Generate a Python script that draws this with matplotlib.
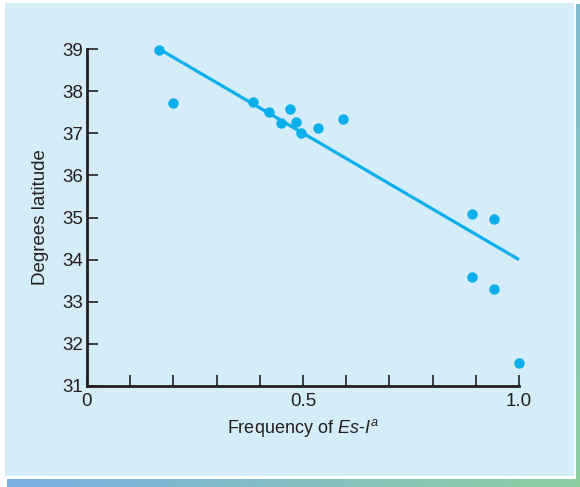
import matplotlib
matplotlib.use("Agg")
import matplotlib.pyplot as plt
import numpy as np
from matplotlib.patches import Rectangle

plt.rcParams['font.family'] = ['Liberation Sans', 'DejaVu Sans']
plt.rcParams['mathtext.fontset'] = 'custom'
plt.rcParams['mathtext.rm'] = 'Liberation Sans'
plt.rcParams['mathtext.it'] = 'Liberation Sans:italic'

# frequency of Es-I vs latitude
freq = [0.167, 0.198, 0.385, 0.421, 0.470, 0.448, 0.484, 0.495, 0.535, 0.593,
        0.892, 0.943, 0.892, 0.943, 1.0]
lat = [38.98, 37.71, 37.74, 37.51, 37.57, 37.25, 37.27, 37.00, 37.12, 37.34,
       35.09, 34.96, 33.58, 33.31, 31.55]
fit_x = [0.167, 1.0]
fit_y = [39.0, 34.0]

yticks = [31, 32, 33, 34, 35, 36, 37, 38, 39]
xticks = [0, 0.5, 1.0]
xtick_labels = ['0', '0.5', '1.0']

blue = '#0AAFEC'
panel = '#D5ECF9'
ink = '#231F20'

fig = plt.figure(figsize=(5.8, 4.87), dpi=100)

# background frame with shadow strips
bg = fig.add_axes([0, 0, 1, 1], zorder=-1)
bg.set_xlim(0, 580)
bg.set_ylim(487, 0)
bg.axis('off')
grad = np.linspace(0, 1, 256)
bottom_cmap = matplotlib.colors.LinearSegmentedColormap.from_list('b', ['#79AFE4', '#8DCFA0'])
right_cmap = matplotlib.colors.LinearSegmentedColormap.from_list('r', ['#80BCD2', '#8DCFA0'])
bg.imshow(grad[None, :], cmap=bottom_cmap, extent=[7, 580, 487, 479], aspect='auto')
bg.imshow(grad[:, None], cmap=right_cmap, extent=[576, 580, 479, 4], aspect='auto')
bg.add_patch(Rectangle((5, 3), 569, 473, color=panel, lw=0))

ax = fig.add_axes([87 / 580, 101 / 487, 432 / 580, 337 / 487])
ax.patch.set_alpha(0)
ax.plot(fit_x, fit_y, color=blue, lw=2.3, solid_capstyle='butt', clip_on=False)
ax.plot(freq, lat, 'o', color=blue, ms=7.5, mec='none', clip_on=False)

ax.set_xlim(0, 1)
ax.set_ylim(31, 39)
ax.set_yticks(yticks)
ax.set_xticks(xticks)
ax.set_xticklabels(xtick_labels)
ax.set_xticks(np.arange(0.1, 1.0, 0.1), minor=True)
for s in ['top', 'right']:
    ax.spines[s].set_visible(False)
for s in ['left', 'bottom']:
    ax.spines[s].set_linewidth(2)
    ax.spines[s].set_color(ink)
ax.tick_params(axis='both', which='both', direction='in', length=8, width=1.2,
               color=ink, labelcolor=ink, labelsize=13.5)
ax.tick_params(axis='y', pad=3)
ax.tick_params(axis='x', pad=5)

ax.set_ylabel('Degrees latitude', fontsize=13.5, color=ink, labelpad=9)
ax.set_xlabel(r'Frequency of $Es$-$I^{a}$', fontsize=13, color=ink, labelpad=5)

fig.savefig('out.png', dpi=100)
